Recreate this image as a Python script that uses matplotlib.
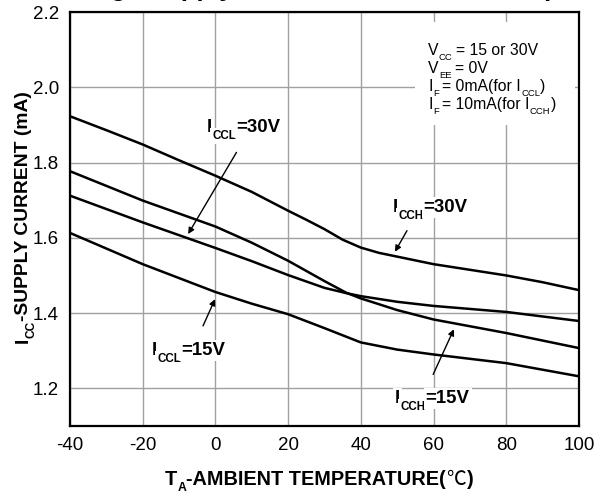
import matplotlib
matplotlib.use("Agg")
import matplotlib.pyplot as plt
from matplotlib import font_manager
from matplotlib.patches import Rectangle

# dados
temp_icch30 = [-40, -30, -20, -10, 0, 10, 20, 25, 30, 35, 40, 45, 50, 60, 70, 80, 90, 100]
icch30 = [1.923, 1.886, 1.848, 1.806, 1.765, 1.722, 1.672, 1.648, 1.623, 1.595, 1.574, 1.560, 1.550, 1.530, 1.515, 1.500, 1.482, 1.461]

temp_icch15 = [-40, -20, 0, 10, 20, 30, 36, 40, 50, 60, 80, 100]
icch15 = [1.777, 1.699, 1.630, 1.587, 1.539, 1.485, 1.454, 1.439, 1.408, 1.383, 1.347, 1.307]

temp_iccl30 = [-40, -20, 0, 10, 20, 30, 36, 40, 50, 60, 80, 100]
iccl30 = [1.712, 1.641, 1.573, 1.538, 1.501, 1.467, 1.453, 1.445, 1.430, 1.419, 1.403, 1.379]

temp_iccl15 = [-40, -20, 0, 10, 20, 30, 40, 50, 60, 80, 100]
iccl15 = [1.613, 1.530, 1.456, 1.425, 1.397, 1.360, 1.322, 1.303, 1.290, 1.267, 1.232]

x_ticks = [-40, -20, 0, 20, 40, 60, 80, 100]
y_ticks = [1.2, 1.4, 1.6, 1.8, 2.0, 2.2]

nomes = {f.name for f in font_manager.fontManager.ttflist}
ESTREITA = 'Liberation Sans Narrow' in nomes
FONTE = 'Liberation Sans Narrow' if ESTREITA else 'Liberation Sans'
K = 1.0 if ESTREITA else 0.84   # fator de tamanho quando nao ha fonte estreita

plt.rcParams['font.family'] = ['Liberation Sans', 'DejaVu Sans']

fig = plt.figure(figsize=(5.95, 4.94), dpi=100)
ax = fig.add_axes([0.1176, 0.1377, 0.8554, 0.838])
W, H = fig.bbox.width, fig.bbox.height
render = fig.canvas.get_renderer()


# texto em pedacos (para subscritos), posicao em pixels a partir do canto inferior esquerdo
def TextoComposto(x0, y0, pecas, tamanho, peso='bold', rotacao=0, fundo=False):
    x, y = x0, y0
    for texto, escala, desloc, espaco, familia in pecas:
        px_em = tamanho * 100 / 72
        if rotacao == 0:
            x += espaco * px_em
            px, py = x, y + desloc * px_em
        else:
            y += espaco * px_em
            px, py = x - desloc * px_em, y
        fam = [familia] if familia else [FONTE, 'Liberation Sans']
        pw = 'normal' if familia else peso
        t = fig.text(px / W, py / H, texto, fontsize=tamanho * escala, fontweight=pw, family=fam,
                     ha='left', va='baseline', rotation=rotacao, rotation_mode='anchor', zorder=5)
        if fundo:
            t.set_bbox(dict(facecolor='white', edgecolor='none', pad=1.5))
        bb = t.get_window_extent(render)
        if rotacao == 0:
            x += bb.width
        else:
            y += bb.height


for t, v in [(temp_icch30, icch30), (temp_icch15, icch15), (temp_iccl30, iccl30), (temp_iccl15, iccl15)]:
    ax.plot(t, v, color='black', lw=1.8, zorder=3)

ax.set_xlim(-40, 100)
ax.set_ylim(1.1, 2.2)
ax.set_xticks(x_ticks)
ax.set_yticks(y_ticks)
ax.set_xticklabels([str(x) for x in x_ticks])
ax.set_yticklabels([f"{y:.1f}" for y in y_ticks])
ax.tick_params(length=0, labelsize=13.5, pad=8)
ax.grid(True, color='#a0a0a0', lw=1.0)
for s in ax.spines.values():
    s.set_linewidth(1.6)

# rotulos dos eixos
TextoComposto(28, 151, [("I", 1, 0, 0, None), ("CC", 0.62, -0.32, 0, None),
                        ("-SUPPLY CURRENT (mA)", 1, 0, 0, None)], 16.5 * K, rotacao=90)
TextoComposto(165, 9, [("T", 1, 0, 0, None), ("A", 0.62, -0.32, 0, None),
                       ("-AMBIENT TEMPERATURE(", 1, 0, 0, None), ("℃", 1, 0, 0.02, 'Noto Sans CJK SC'),
                       (")", 1, 0, 0.05, None)], 17 * K)

# titulo cortado no topo
fig.text(0.578, 1.008, "Average Supply Current vs. Ambient Temperature", ha='center', va='baseline',
         fontsize=18.5, fontweight='bold')

# caixa de condicoes
ax.add_patch(Rectangle((0.678, 0.727), 0.314, 0.249, transform=ax.transAxes,
                       facecolor='white', edgecolor='none', zorder=2))
info = [
    [("V", 1, 0, 0, None), ("CC", 0.6, -0.3, 0.02, None), ("= 15 or 30V", 1, 0, 0.22, None)],
    [("V", 1, 0, 0, None), ("EE", 0.6, -0.3, 0.02, None), ("= 0V", 1, 0, 0.22, None)],
    [("I", 1, 0, 0, None), ("F", 0.6, -0.3, 0.04, None), ("= 0mA(for I", 1, 0, 0.22, None),
     ("CCL", 0.6, -0.3, 0.02, None), (")", 1, 0, 0, None)],
    [("I", 1, 0, 0, None), ("F", 0.6, -0.3, 0.04, None), ("= 10mA(for I", 1, 0, 0.22, None),
     ("CCH", 0.6, -0.3, 0.02, None), (")", 1, 0, 0, None)],
]
for linha, base in zip(info, [439, 421, 403, 385]):
    TextoComposto(428, base, linha, 13.5 * K, peso='normal')

# rotulos das curvas
rotulos = [
    ("CCL", "=30V", (207, 362), (5.8, 1.827), (-7.5, 1.610)),
    ("CCH", "=30V", (393, 282), (52.7, 1.619), (49.4, 1.563)),
    ("CCL", "=15V", (152, 139), (-3.4, 1.366), (-0.1, 1.437)),
    ("CCH", "=15V", (395, 91), (59.9, 1.237), (65.6, 1.357)),
]
for sub, resto, pos, inicio, ponta in rotulos:
    TextoComposto(pos[0], pos[1], [("I", 1, 0, 0, None), (sub, 0.62, -0.38, 0.02, None),
                                   (resto, 1, 0, 0, None)], 16 * K, fundo=True)
    ax.annotate('', xy=ponta, xytext=inicio, zorder=5,
                arrowprops=dict(arrowstyle='-|>', color='black', lw=1.0, mutation_scale=9,
                                shrinkA=0, shrinkB=0))

fig.savefig('out.png', dpi=100)
